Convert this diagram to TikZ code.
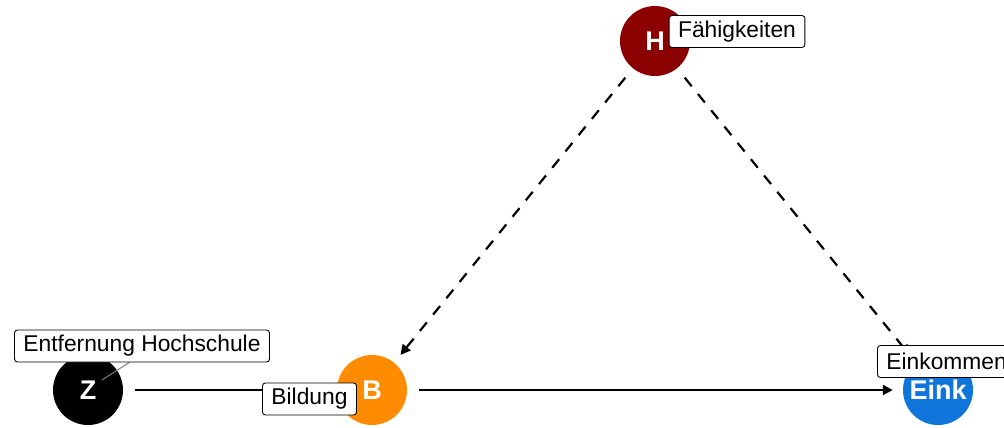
\documentclass[tikz,border=0pt]{standalone}
\usepackage{fontspec}
\setmainfont{Liberation Sans}
\usetikzlibrary{arrows.meta}
\definecolor{hcol}{HTML}{8B0000}
\definecolor{bcol}{HTML}{FF8C00}
\definecolor{ecol}{HTML}{0F75DB}
\tikzset{
  dagnode/.style={circle, minimum size=70pt, inner sep=0pt, text=white,
    font=\bfseries\fontsize{27}{32}\selectfont},
  lbl/.style={draw=black, fill=white, rounded corners=3pt, line width=0.9pt,
    minimum height=32pt, inner xsep=9pt, inner ysep=0pt,
    font=\fontsize{22.8}{27}\selectfont},
  solidarrow/.style={line width=2.2pt, -{Triangle[length=10pt,width=10pt]},
    shorten <=12pt, shorten >=10pt},
  dasharrow/.style={solidarrow, dash pattern=on 11pt off 10pt},
  leader/.style={draw=gray, line width=1pt}
}
\begin{document}
\begin{tikzpicture}[x=1pt,y=-1pt]
\useasboundingbox (0,0) rectangle (1004,428);
% nodes
\node[dagnode, fill=black] (Z) at (88,390) {Z};
\node[dagnode, fill=bcol] (B) at (372,390) {B};
\node[dagnode, fill=hcol] (H) at (655,41) {H};
\node[dagnode, fill=ecol] (E) at (938,390) {Eink};
% edges
\draw[solidarrow] (Z) -- (B);
\draw[solidarrow] (B) -- (E);
\draw[dasharrow] (H) -- (B);
\draw[dasharrow] (H) -- (E);
% label leader
\coordinate (zl) at (102,380);
\coordinate (lz) at (130,362);
\draw[leader] (zl) -- (lz);
% labels
\node[lbl] (lZ) at (142,346) {Entfernung Hochschule};
\node[lbl] (lH) at (737,31.5) {Fähigkeiten};
\node[lbl] (lB) at (309.5,399) {Bildung};
\node[lbl, anchor=west] (lE) at (877,361.5) {Einkommen};
\end{tikzpicture}
\end{document}
